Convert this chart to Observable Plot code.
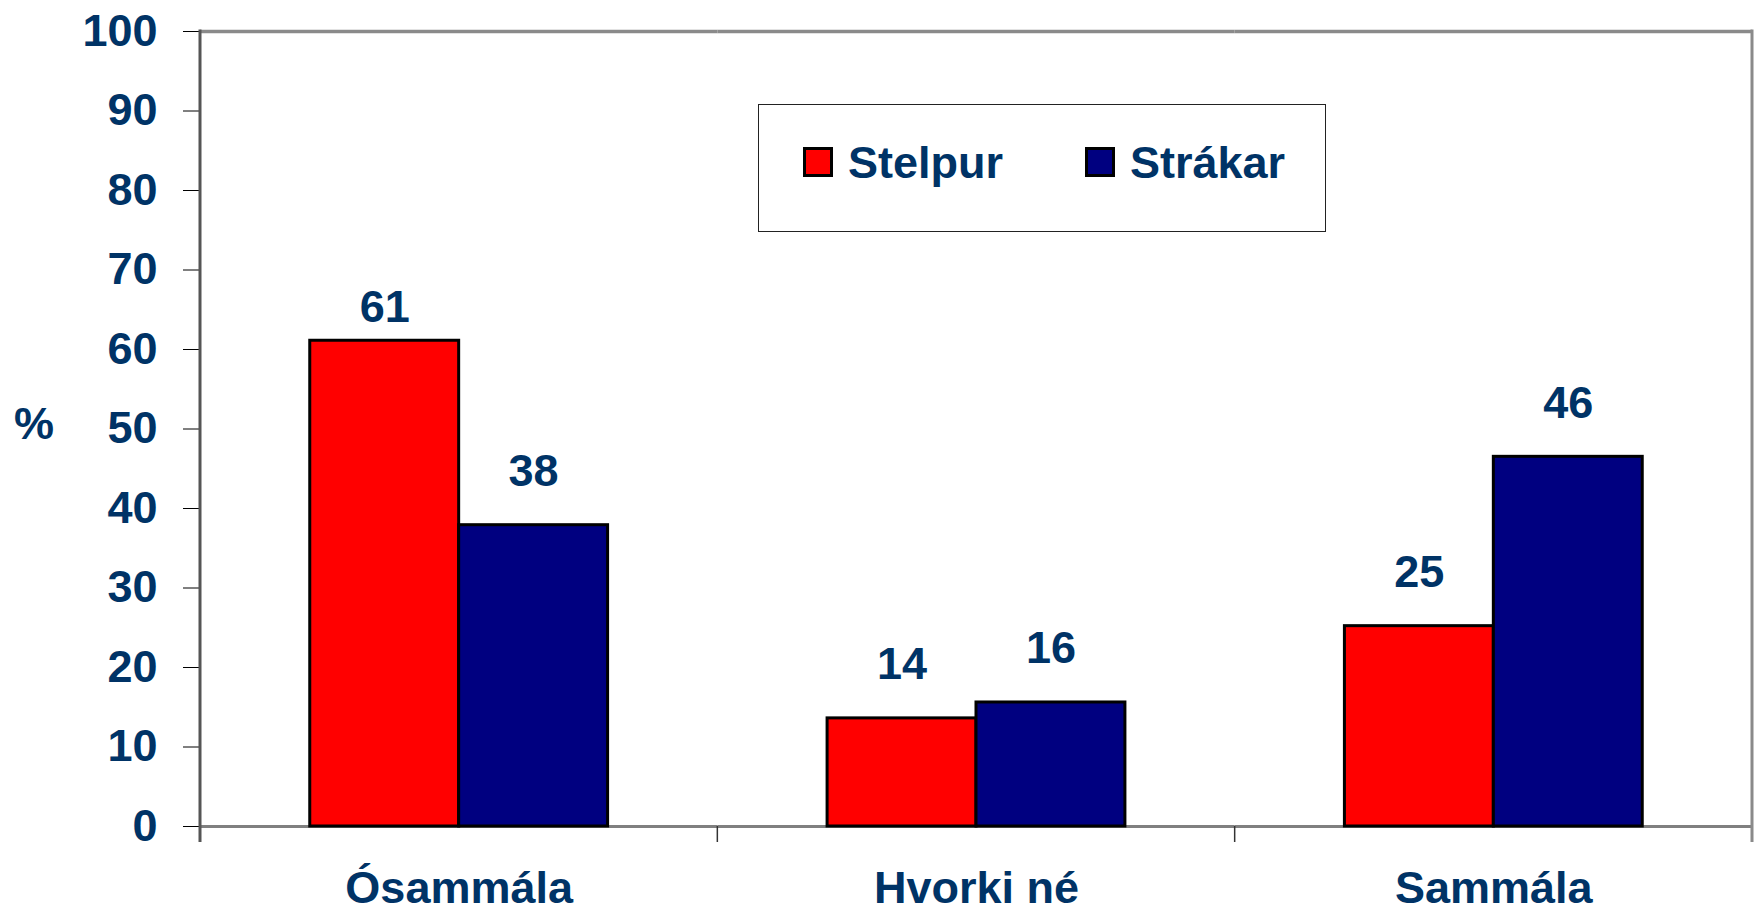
<!DOCTYPE html>
<html>
<head>
<meta charset="utf-8">
<script src="https://cdn.jsdelivr.net/npm/d3@7"></script>
<script src="https://cdn.jsdelivr.net/npm/@observablehq/plot@0.6"></script>
<style>
  html, body { margin: 0; padding: 0; background: #fff; }
  #wrap { position: relative; width: 1754px; height: 914px; overflow: hidden; }
  #chart svg text { fill: #003366; }
  #legend {
    position: absolute; left: 758px; top: 104px; width: 568px; height: 128px;
    box-sizing: border-box; border: 1.5px solid #222; background: #fff;
    display: flex; align-items: center; padding-left: 44px; padding-bottom: 12px;
    font-family: "Liberation Sans", Arial, sans-serif; font-weight: bold; font-size: 45px; color: #003366;
  }
  #legend .item { display: flex; align-items: center; line-height: 1; }
  #legend .item + .item { margin-left: 82px; }
  #legend .sw { width: 30px; height: 30px; box-sizing: border-box; border: 3px solid #000; margin-right: 15px; }
</style>
</head>
<body>
<div id="wrap">
  <div id="chart"></div>
  <div id="legend"></div>
</div>
<script>
const categories = ["Ósammála", "Hvorki né", "Sammála"];
const series = ["Stelpur", "Strákar"];
const stelpurValues = [61.1, 13.6, 25.2];
const strakarValues = [37.9, 15.6, 46.5];
const stelpurLabels = ["61", "14", "25"];
const strakarLabels = ["38", "16", "46"];
const seriesColors = ["#ff0000", "#000080"];
const yTicks = [0, 10, 20, 30, 40, 50, 60, 70, 80, 90, 100];
const yLabel = "%";

const data = [];
categories.forEach((c, i) => {
  data.push({category: c, series: series[0], value: stelpurValues[i], label: stelpurLabels[i]});
  data.push({category: c, series: series[1], value: strakarValues[i], label: strakarLabels[i]});
});
const maxValue = d3.max(data, d => d.value);

const plot = Plot.plot({
  width: 1754,
  height: 914,
  marginTop: 31,
  marginBottom: 88,
  marginLeft: 200,
  marginRight: 2,
  style: {
    fontFamily: "'Liberation Sans', Arial, sans-serif",
    fontWeight: "bold",
    fontSize: "45px",
    color: "#000",
    background: "#fff",
    overflow: "visible"
  },
  fx: {domain: categories, padding: 0, round: false, axis: "bottom", tickSize: 0, tickPadding: 45, label: null},
  x: {domain: series, paddingInner: 0, paddingOuter: 0.737, round: false, axis: null},
  y: {domain: [0, 100], ticks: yTicks, tickSize: 17, tickPadding: 26, label: null},
  color: {domain: series, range: seriesColors},
  marks: [
    Plot.ruleY([0], {stroke: "#808080", strokeWidth: 3}),
    Plot.ruleY([100], {stroke: "#8a8a8a", strokeWidth: 3.5}),
    Plot.barY(data, {fx: "category", x: "series", y: "value", fill: "series", stroke: "#000", strokeWidth: 3}),
    Plot.text(data.filter(d => d.value < maxValue), {
      fx: "category", x: "series", y: "value", text: "label",
      lineAnchor: "bottom", dy: -39, fontSize: 45, fontWeight: "bold", fill: "#003366"
    }),
    Plot.text(data.filter(d => d.value === maxValue), {
      fx: "category", x: "series", y: "value", text: "label",
      lineAnchor: "bottom", dy: -19, fontSize: 45, fontWeight: "bold", fill: "#003366"
    })
  ]
});
document.getElementById("chart").appendChild(plot);

// frame lines and category boundary ticks, placed with the plot's own scales
const fx = plot.scale("fx");
const y = plot.scale("y");
const svg = d3.select(plot);
const y0 = y.apply(0), y100 = y.apply(100);
const lefts = categories.map(c => fx.apply(c));
const rightEdge = lefts[lefts.length - 1] + fx.bandwidth;
const g = svg.append("g").attr("aria-label", "frame");
lefts.slice(1).forEach(x => {
  g.append("line").attr("x1", x).attr("x2", x).attr("y1", y0).attr("y2", y0 + 16)
    .attr("stroke", "#333").attr("stroke-width", 1.5);
});
g.append("line").attr("x1", lefts[0]).attr("x2", lefts[0]).attr("y1", y100 - 1.5).attr("y2", y0 + 16)
  .attr("stroke", "#555").attr("stroke-width", 3);
g.append("line").attr("x1", rightEdge).attr("x2", rightEdge).attr("y1", y100 - 1.5).attr("y2", y0 + 16)
  .attr("stroke", "#8a8a8a").attr("stroke-width", 3);
svg.append("text").attr("x", 34).attr("y", (y0 + y100) / 2 - 4).attr("dy", "0.32em")
  .attr("text-anchor", "middle").attr("font-size", 45).attr("font-weight", "bold")
  .attr("fill", "#003366").text(yLabel);

// legend
const legend = d3.select("#legend");
series.forEach((s, i) => {
  const item = legend.append("div").attr("class", "item");
  item.append("div").attr("class", "sw").style("background", seriesColors[i]);
  item.append("span").text(s);
});
</script>
</body>
</html>
